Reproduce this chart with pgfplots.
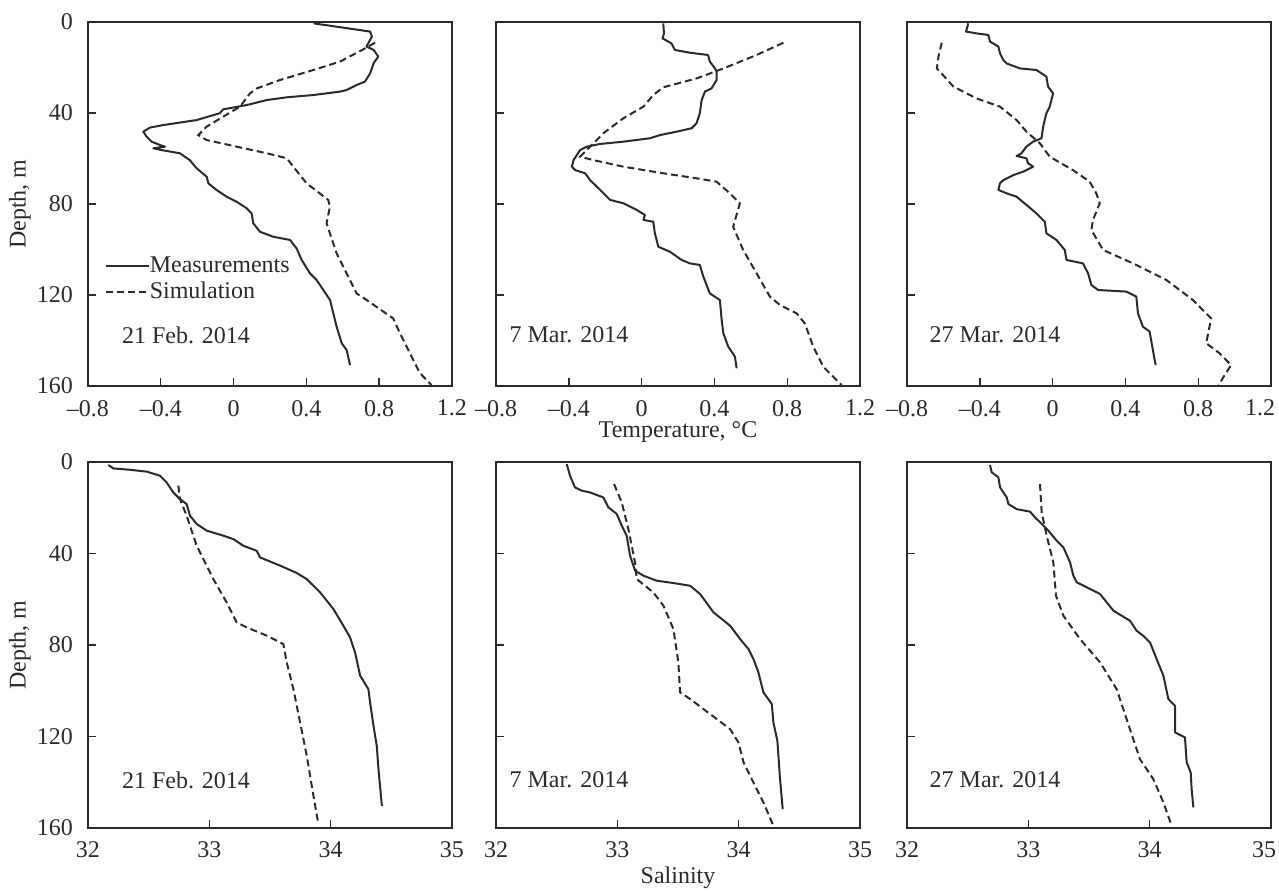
\documentclass[border=0pt]{standalone}
\usepackage{fontspec}
\setmainfont{Liberation Serif}
\usepackage{pgfplots}
\pgfplotsset{compat=1.18}
\definecolor{ink}{HTML}{2B2B2B}

\tikzset{date/.style={anchor=west, font=\fontsize{12}{14}\selectfont, text=ink}}
\pgfplotsset{
  prof/.style={
    scale only axis, width=182pt, height=182pt,
    y dir=reverse, ymin=0, ymax=160, ytick={0,40,80,120,160},
    tick align=inside, xtick pos=left, ytick pos=left,
    major tick length=4pt,
    axis line style={ink, line width=0.7pt},
    every tick/.style={ink, line width=0.7pt},
    tick label style={font=\fontsize{12}{14}\selectfont, text=ink},
    xticklabel style={yshift=-3.5pt},
    yticklabel style={xshift=-4pt},
    label style={font=\fontsize{12}{14}\selectfont, text=ink},
    ylabel style={at={(axis description cs:-0.187,0.5)}, anchor=center},
    /pgf/number format/assume math mode=true,
    anchor=south west,
  },
  temp/.style={prof, xmin=-0.8, xmax=1.2, xtick={-0.8,-0.4,0,0.4,0.8,1.2},
    xticklabels={\textendash0.8,\textendash0.4,0,0.4,0.8,1.2},
    xlabel style={at={(axis description cs:0.5,-0.127)}, anchor=center}},
  sal/.style={prof, height=183pt, xmin=32, xmax=35, xtick={32,33,34,35},
    xlabel style={at={(axis description cs:0.5,-0.135)}, anchor=center}},
  meas/.style={ink, line width=1pt, no markers, line join=round},
  simu/.style={ink, line width=1pt, no markers, dash pattern=on 3.5pt off 2pt},
}

\begin{document}
\begin{tikzpicture}
\useasboundingbox (0,0) rectangle (639.5pt,445pt);

% ---------- temperature, 21 Feb
\begin{axis}[temp, at={(44pt,252pt)}, ylabel={Depth, m},
  legend style={draw=none, fill=none, at={(0.045,0.363)}, anchor=north west,
    inner sep=0pt, row sep=1pt, font=\fontsize{12}{14}\selectfont, text=ink,
    nodes={inner sep=0pt, text height=9pt, text depth=3pt}},
  legend cell align=left,
  legend image code/.code={\draw[#1] (0pt,0pt) -- (21.5pt,0pt);}]
\addplot[meas] coordinates {
(0.44,0.6) (0.75,4.2) (0.76,6.4) (0.73,10.8) (0.77,12.3) (0.795,15.2) (0.77,18)
(0.75,22.6) (0.722,26.2) (0.676,27.7) (0.621,29.9) (0.585,30.6) (0.438,32.1)
(0.292,33.1) (0.183,34.3) (0.072,36.5) (-0.057,38.4) (-0.076,40.1) (-0.203,43.1)
(-0.386,45.3) (-0.459,46.4) (-0.496,48.2) (-0.478,50.4) (-0.45,52.6) (-0.404,54.1)
(-0.377,54.8) (-0.441,55.5) (-0.396,56.3) (-0.295,57.7) (-0.241,60.7) (-0.203,64.3)
(-0.148,68) (-0.139,70.9) (-0.094,73.8) (-0.038,76.8) (0.017,79) (0.072,81.9)
(0.099,84.1) (0.108,88.5) (0.145,92.2) (0.218,94.4) (0.31,95.8) (0.346,99.5)
(0.374,104.6) (0.42,110.5) (0.456,113.4) (0.493,117.8) (0.53,122.2) (0.548,128.1)
(0.566,133.9) (0.594,141.2) (0.621,144.2) (0.64,150.8)};
\addlegendentry{Measurements}
\addplot[simu] coordinates {
(0.777,9.1) (0.713,12) (0.585,17.4) (0.438,21.1) (0.255,25.5) (0.127,29.2)
(0.09,31.4) (0.035,37.2) (-0.057,41.6) (-0.148,46) (-0.194,49.7) (-0.148,51.9)
(0.017,54.8) (0.182,57.7) (0.292,59.9) (0.328,63.6) (0.401,70.9) (0.52,78.2)
(0.529,81.2) (0.511,88.5) (0.566,101.7) (0.621,110.5) (0.676,119.3) (0.731,122.2)
(0.877,130.3) (0.914,136.8) (0.969,145.6) (1.024,154.4) (1.088,159.6)};
\addlegendentry{Simulation}
\node[date] at (axis description cs:0.074,0.14) {21 Feb. 2014};
\end{axis}

% ---------- temperature, 7 Mar
\begin{axis}[temp, at={(248pt,252pt)}, yticklabels={}, xlabel={Temperature, °C}]
\addplot[meas] coordinates {
(0.119,0.6) (0.123,5) (0.115,7.2) (0.164,9.4) (0.183,12.3) (0.265,13.5) (0.365,14.5)
(0.375,17.4) (0.403,20.4) (0.412,21.8) (0.412,25.5) (0.384,29.2) (0.348,30.6)
(0.33,34.3) (0.32,40.1) (0.302,44.5) (0.275,46.7) (0.193,48.2) (0.101,49.7)
(0.046,51.1) (-0.1,52.6) (-0.228,53.6) (-0.301,54.8) (-0.338,56.3) (-0.356,58.5)
(-0.374,60.7) (-0.383,63.6) (-0.365,65.1) (-0.31,66.5) (-0.283,69.5) (-0.228,73.8)
(-0.173,78.2) (-0.1,79.7) (-0.027,82.6) (0.018,84.8) (0.01,87) (0.064,87.8)
(0.073,92.9) (0.092,98.8) (0.156,101) (0.22,104.6) (0.265,106.1) (0.32,106.8)
(0.339,111.9) (0.375,119.3) (0.43,122.2) (0.44,131) (0.449,136.8) (0.476,142.7)
(0.513,147.1) (0.522,152.2)};
\addplot[simu] coordinates {
(0.779,9.1) (0.632,14.5) (0.45,20.4) (0.302,24.8) (0.119,28.7) (0.064,32.1)
(0.01,37.2) (-0.1,42.3) (-0.21,48.9) (-0.283,54.8) (-0.338,59.2) (-0.265,60.7)
(-0.1,63.6) (0.119,66.5) (0.302,68.7) (0.412,70.2) (0.485,75.3) (0.54,79.7)
(0.503,90) (0.558,100.2) (0.632,110.5) (0.705,120.7) (0.76,124.4) (0.852,128.1)
(0.897,132.5) (0.943,142.7) (0.998,151.5) (1.071,157.4) (1.099,159.6)};
\node[date] at (axis description cs:0.018,0.14) {7 Mar. 2014};
\end{axis}

% ---------- temperature, 27 Mar
\begin{axis}[temp, at={(453.5pt,252pt)}, yticklabels={},
  xticklabels={\textendash0.8,\textendash0.4,0,0.4,0.8,1.2\rule{11pt}{0pt}}]
\addplot[meas] coordinates {
(-0.463,0.6) (-0.476,4.2) (-0.418,5) (-0.353,5.7) (-0.344,8.6) (-0.298,10.8)
(-0.289,13.8) (-0.271,16.7) (-0.253,18.2) (-0.18,20.4) (-0.089,21.1) (-0.034,24)
(-0.025,28.4) (0.003,31.4) (-0.016,37.2) (-0.034,40.1) (-0.052,46) (-0.061,51.1)
(-0.107,52.6) (-0.144,54.8) (-0.171,57.7) (-0.198,58.9) (-0.144,59.9) (-0.135,62.1)
(-0.107,63.6) (-0.162,65.8) (-0.216,67.3) (-0.271,69.5) (-0.289,70.9) (-0.298,73.8)
(-0.253,75.3) (-0.198,76.8) (-0.144,80.4) (-0.089,84.1) (-0.043,87.8) (-0.034,92.9)
(0.021,95.8) (0.067,100.2) (0.076,104.6) (0.167,106.1) (0.195,110.5) (0.213,115.6)
(0.25,117.8) (0.405,118.5) (0.46,120.7) (0.469,128.1) (0.496,133.9) (0.533,136.1)
(0.551,144.2) (0.566,150.8)};
\addplot[simu] coordinates {
(-0.609,9.1) (-0.627,15.2) (-0.636,20.4) (-0.545,28.4) (-0.418,33.6) (-0.289,37.2)
(-0.198,43.1) (-0.144,48.2) (-0.07,53.3) (-0.016,59.2) (0.112,65.1) (0.204,70.2)
(0.24,75.3) (0.259,79.7) (0.222,87) (0.213,91.4) (0.277,100.2) (0.442,106.1)
(0.625,113.4) (0.771,122.2) (0.871,130.3) (0.844,141.2) (0.917,145.6) (0.981,150.8)
(0.945,155.2) (0.91,160)};
\node[date] at (axis description cs:0.043,0.14) {27 Mar. 2014};
\end{axis}

% ---------- salinity, 21 Feb
\begin{axis}[sal, at={(44pt,31pt)}, ylabel={Depth, m}]
\addplot[meas] coordinates {
(32.167,1.3) (32.209,2.8) (32.346,3.4) (32.484,4.2) (32.594,6) (32.648,8.9)
(32.703,13.3) (32.758,16.2) (32.813,18.4) (32.841,23.5) (32.896,27.1) (32.978,30)
(33.115,32.2) (33.198,33.7) (33.28,36.6) (33.39,38.8) (33.418,41.7) (33.583,45.3)
(33.72,48.5) (33.803,51.2) (33.913,57) (34.023,64.3) (34.105,71.6) (34.16,76.7)
(34.201,83.2) (34.243,93.4) (34.311,99.3) (34.325,105.1) (34.353,115.3)
(34.38,124.1) (34.394,134.3) (34.422,150.3)};
\addplot[simu] coordinates {
(32.745,10.3) (32.758,16.2) (32.813,23.5) (32.896,36.6) (33.033,51.2) (33.143,61.4)
(33.225,70.1) (33.308,72.3) (33.473,75.9) (33.61,79.6) (33.638,87.6) (33.693,99.3)
(33.748,113.8) (33.803,128.4) (33.858,145.9) (33.899,158.3)};
\node[date] at (axis description cs:0.074,0.131) {21 Feb. 2014};
\end{axis}

% ---------- salinity, 7 Mar
\begin{axis}[sal, at={(248pt,31pt)}, yticklabels={}, xlabel={Salinity}]
\addplot[meas] coordinates {
(32.583,0.9) (32.61,6) (32.651,11.1) (32.706,12.5) (32.775,13.3) (32.885,15.5)
(32.926,19.8) (32.995,22.7) (33.036,27.8) (33.077,32.2) (33.105,41) (33.146,47.5)
(33.215,49.7) (33.325,51.9) (33.462,52.9) (33.6,54.1) (33.682,57.7) (33.792,65.7)
(33.93,71.6) (34.012,77.4) (34.081,81.8) (34.122,86.2) (34.163,92) (34.204,100.7)
(34.273,105.8) (34.286,113.8) (34.319,121.9) (34.341,138.6) (34.363,151.7)};
\addplot[simu] coordinates {
(32.973,9.6) (33.036,17.6) (33.091,29.3) (33.146,43.9) (33.16,51.2) (33.297,57)
(33.38,62.8) (33.462,73) (33.503,87.6) (33.517,100.7) (33.6,103.6) (33.82,112.4)
(33.93,116.8) (33.998,122.6) (34.04,131.3) (34.122,140.1) (34.204,148.8)
(34.286,159)};
\node[date] at (axis description cs:0.018,0.131) {7 Mar. 2014};
\end{axis}

% ---------- salinity, 27 Mar
\begin{axis}[sal, at={(453.5pt,31pt)}, yticklabels={},
  xticklabels={32,33,34,35\rule{7pt}{0pt}}]
\addplot[meas] coordinates {
(32.684,1.3) (32.698,4.5) (32.753,6.7) (32.767,11.1) (32.822,15.5) (32.836,18.4)
(32.904,20.6) (33.014,21.7) (33.055,24.2) (33.11,27.1) (33.165,30) (33.234,34.4)
(33.289,37.3) (33.344,43.9) (33.371,49.7) (33.399,52.6) (33.509,55.5) (33.591,57.7)
(33.701,65) (33.838,69.4) (33.893,73.8) (33.948,76) (34.003,78.9) (34.058,86.2)
(34.113,93.4) (34.154,103.6) (34.209,106.6) (34.209,118.2) (34.291,120.4)
(34.305,131.3) (34.338,135.7) (34.346,143) (34.36,151)};
\addplot[simu] coordinates {
(33.096,9.6) (33.11,22) (33.151,32.2) (33.206,43.9) (33.228,58.5) (33.289,67.2)
(33.426,77.4) (33.591,87.6) (33.728,99.3) (33.81,112.4) (33.92,129.9) (34.03,138.6)
(34.113,148.8) (34.181,159)};
\node[date] at (axis description cs:0.043,0.131) {27 Mar. 2014};
\end{axis}
\end{tikzpicture}
\end{document}
